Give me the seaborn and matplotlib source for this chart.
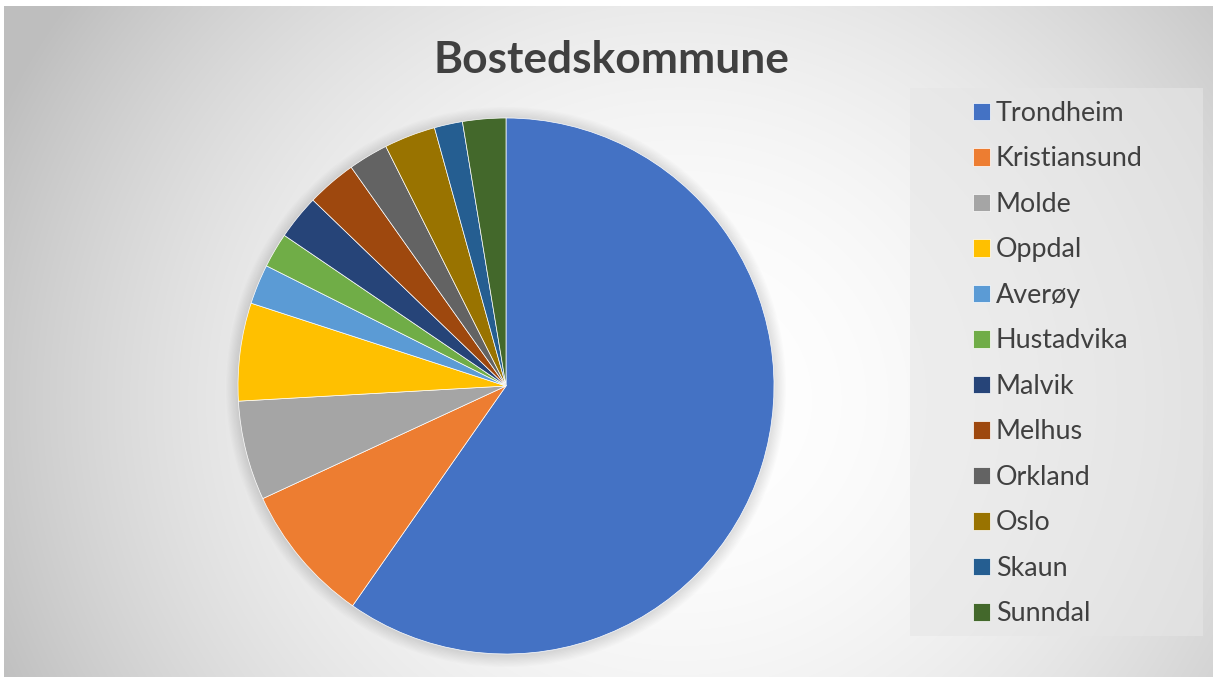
import numpy as np
import pandas as pd
import matplotlib
matplotlib.use("Agg")
import matplotlib.pyplot as plt
import seaborn as sns
from matplotlib.patches import Rectangle, Circle

# ---------------- data ----------------
title = "Bostedskommune"
categories = ["Trondheim", "Kristiansund", "Molde", "Oppdal", "Averøy", "Hustadvika",
              "Malvik", "Melhus", "Orkland", "Oslo", "Skaun", "Sunndal"]
shares = [59.7, 8.4, 6.0, 5.9, 2.4, 2.1, 2.7, 3.0, 2.4, 3.1, 1.7, 2.6]
colors = ["#4472C4", "#ED7D31", "#A5A5A5", "#FFC000", "#5B9BD5", "#70AD47",
          "#264478", "#9E480E", "#636363", "#997300", "#255E91", "#43682B"]

df = pd.DataFrame({"kommune": categories, "andel": shares, "farge": colors})

# ---------------- style ----------------
sns.set_theme(style="white")
plt.rcParams["font.family"] = ["Lato", "DejaVu Sans"]

W, H = 1215, 679
fig = plt.figure(figsize=(W / 100, H / 100), dpi=100)
fig.patch.set_facecolor("white")


def fx(px):
    return px / W


def fy(py):
    return 1 - py / H


# ---------------- radial gradient background ----------------
bl, bt, br, bb = 4, 6, 1213, 677
bg = fig.add_axes([fx(bl), fy(bb), fx(br) - fx(bl), fy(bt) - fy(bb)], zorder=0)
gx, gy = np.meshgrid(np.arange(bl, br), np.arange(bt, bb))
r2 = ((gx - 680) / 750.0) ** 2 + ((gy - 400) / 700.0) ** 2
shade = (255 - 65 * np.clip(r2, 0, 1)) / 255.0
bg.imshow(np.dstack([shade] * 3), aspect="auto", interpolation="bilinear")
bg.set_axis_off()

# ---------------- legend box ----------------
fig.add_artist(Rectangle((fx(910), fy(636)), fx(1203) - fx(910), fy(88) - fy(636),
                         transform=fig.transFigure, facecolor="#e6e6e6",
                         edgecolor="none", alpha=0.6, zorder=1))

# ---------------- pie ----------------
cx, cy, R = 506, 386, 268
ax = fig.add_axes([fx(cx - R), fy(cy + R), 2 * R / W, 2 * R / H], zorder=2)
ax.set_facecolor("none")
for i in range(10):
    ax.add_patch(Circle((0.0, -0.004), 1 + 0.0045 * (i + 1), facecolor="black",
                        edgecolor="none", alpha=0.012, zorder=0, clip_on=False))
wedges, _ = ax.pie(df["andel"], colors=df["farge"], startangle=90, counterclock=False,
                   wedgeprops=dict(edgecolor="white", linewidth=0.5))
for w in wedges:
    w.set_zorder(2)
ax.set_xlim(-1, 1)
ax.set_ylim(-1, 1)
ax.set_axis_off()

renderer = fig.canvas.get_renderer()

# ---------------- title ----------------
t = fig.text(fx(611.5), fy(73), title, ha="center", va="baseline", fontsize=30,
             fontweight="bold", color="#404040", zorder=3)
tw = t.get_window_extent(renderer).width
t.set_fontsize(30 * 355 / tw)

# ---------------- legend ----------------
probe = fig.text(0, 0, "Kristiansund", fontsize=18)
wk = probe.get_window_extent(renderer).width
probe.remove()
lfs = 18 * 146 / wk
fs_px = lfs * 100 / 72
hl = 17 / fs_px


def make_legend(spacing, anchor):
    return fig.legend(wedges, list(df["kommune"]), loc="upper left", bbox_to_anchor=anchor,
                      bbox_transform=fig.transFigure, frameon=False, fontsize=lfs,
                      handlelength=hl, handleheight=hl, handletextpad=6 / fs_px,
                      labelspacing=spacing, borderpad=0, borderaxespad=0,
                      labelcolor="#404040")


def ycen(txt):
    b = txt.get_window_extent(renderer)
    return (b.y0 + b.y1) / 2


sp = 0.8
anchor = (fx(973), fy(102))
leg = make_legend(sp, anchor)
fig.canvas.draw()
tx = leg.get_texts()
pitch = (ycen(tx[0]) - ycen(tx[-1])) / (len(tx) - 1)
sp = sp + (45.5 - pitch) / fs_px
leg.remove()
leg = make_legend(sp, anchor)
fig.canvas.draw()
hb = leg.legend_handles[0].get_window_extent(renderer)
dx = 973 - hb.x0
dy = (H - 102.5) - hb.y1
leg.remove()
leg = make_legend(sp, (anchor[0] + dx / W, anchor[1] + dy / H))

fig.savefig("out.png", dpi=100)
